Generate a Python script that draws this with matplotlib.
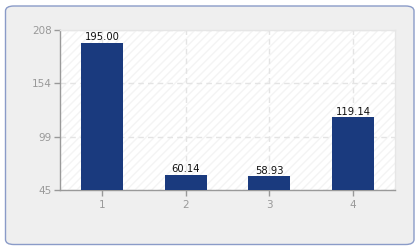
import matplotlib.pyplot as plt
from matplotlib.patches import FancyBboxPatch, Rectangle

# data
categories = [1, 2, 3, 4]
values = [195.00, 60.14, 58.93, 119.14]
y_ticks = [45, 99, 154, 208]

BAR_COLOR = "#1a3a7e"
TICK_COLOR = "#999999"

fig = plt.figure(figsize=(4.2, 2.5), dpi=100)
fig.patch.set_facecolor("white")

# rounded frame around the whole chart, drawn beneath the axes
frame = FancyBboxPatch(
    (5.5 / 420, 5.5 / 250), 408.5 / 420, 238.5 / 250,
    boxstyle="round,pad=0,rounding_size=0.02",
    transform=fig.transFigure, facecolor="#efefef",
    edgecolor="#8a9bc8", linewidth=1.0, zorder=-5,
)
fig.add_artist(frame)

ax = fig.add_axes([60 / 420, 60 / 250, 335 / 420, 160 / 250])
ax.set_zorder(2)
ax.set_facecolor("white")

# faint diagonal hatching in the plot area
ax.add_patch(Rectangle((0, 0), 1, 1, transform=ax.transAxes, facecolor="none",
                       edgecolor="#f4f4f4", hatch="////", linewidth=0, zorder=0))

ax.bar(categories, values, width=0.5, color=BAR_COLOR, zorder=3)

for x, v in zip(categories, values):
    ax.annotate(f"{v:.2f}", (x, v), textcoords="offset points", xytext=(0, 0.5),
                ha="center", va="bottom", fontsize=7.2, color="#111111", zorder=4)

ax.set_xlim(0.5, 4.5)
ax.set_ylim(y_ticks[0], y_ticks[-1])
ax.set_xticks(categories)
ax.set_xticklabels([str(c) for c in categories])
ax.set_yticks(y_ticks)

ax.tick_params(axis="both", colors=TICK_COLOR, labelsize=7.5, length=4, width=1)
ax.tick_params(axis="x", pad=3)
ax.tick_params(axis="y", pad=2)

ax.grid(True, color="#e4e4e4", linestyle=(0, (4, 3)), linewidth=1, zorder=1)
ax.set_axisbelow(True)

for side in ["left", "bottom"]:
    ax.spines[side].set_color("#999999")
    ax.spines[side].set_linewidth(1)
for side in ["top", "right"]:
    ax.spines[side].set_color("#e6e6e6")
    ax.spines[side].set_linewidth(1)

fig.savefig("out.png", dpi=100)
